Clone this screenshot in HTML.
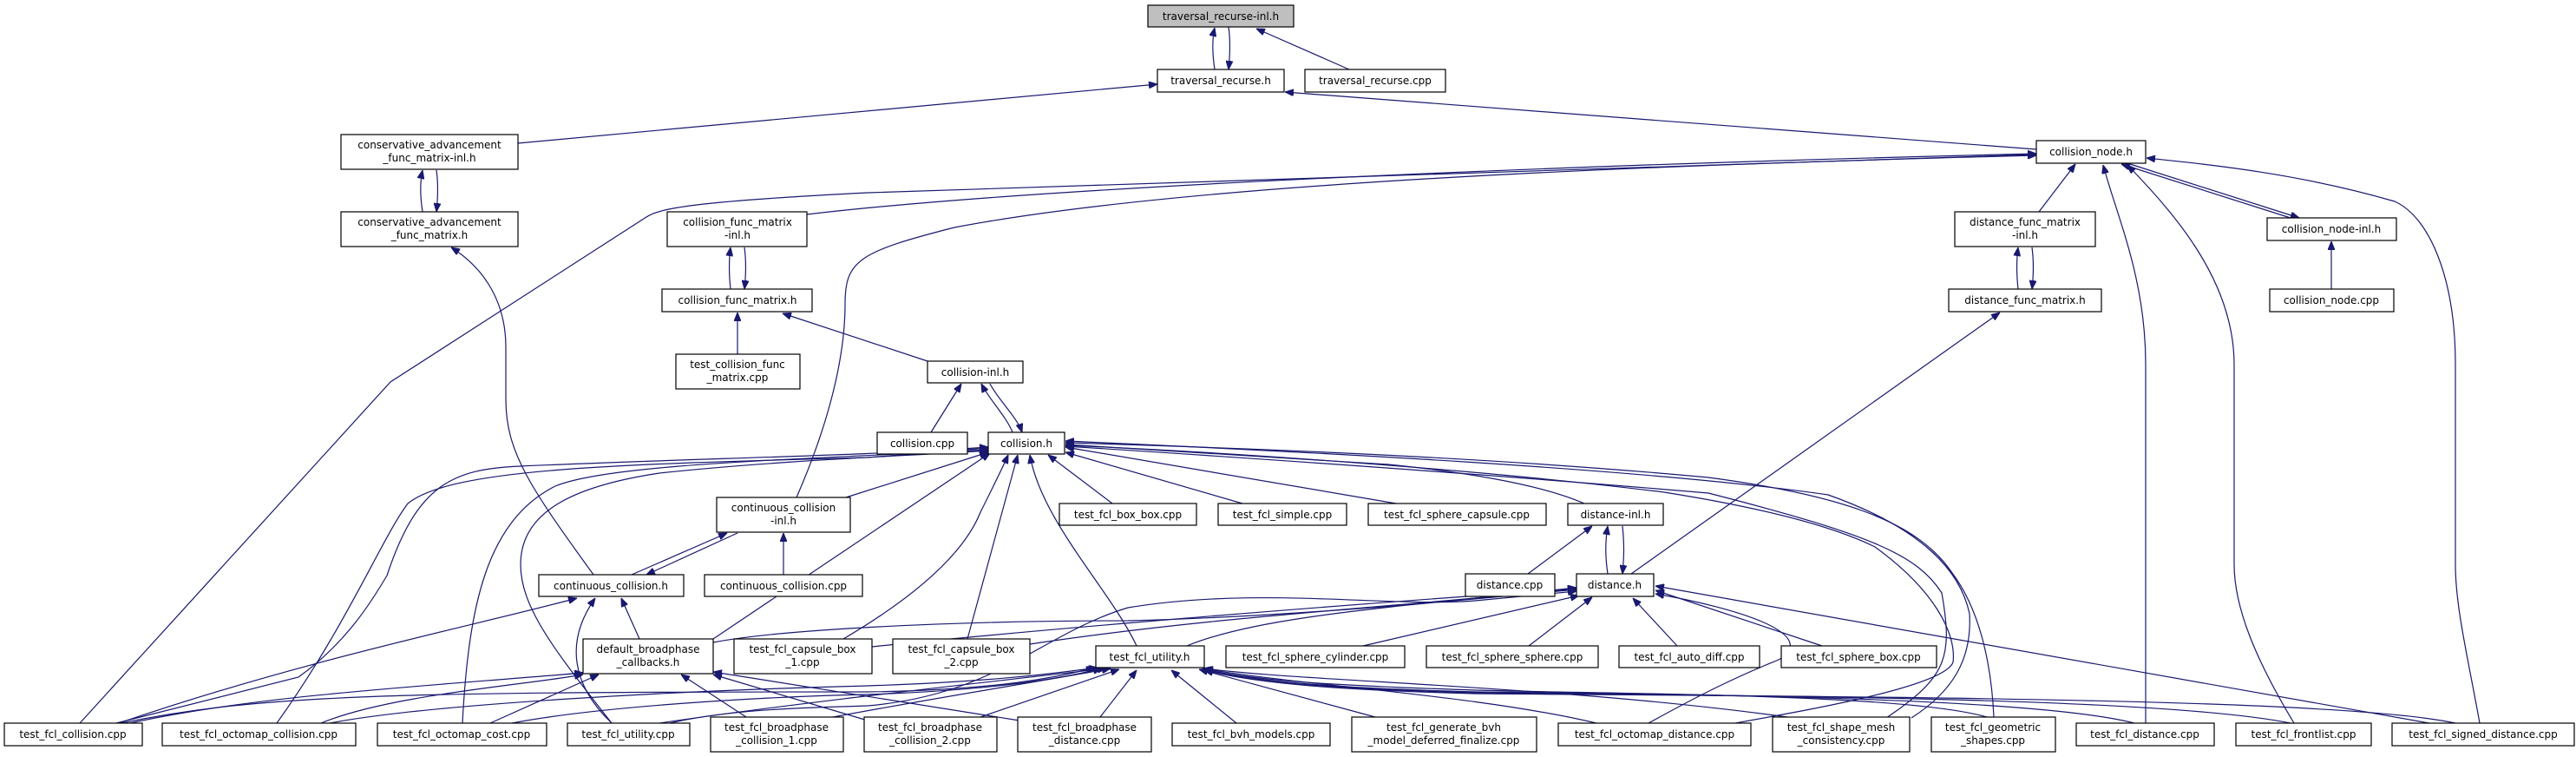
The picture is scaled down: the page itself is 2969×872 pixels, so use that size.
<!DOCTYPE html>
<html><head><meta charset="utf-8">
<style>
html,body{margin:0;padding:0;background:#fff;}
svg{display:block;}
text{font-family:"DejaVu Sans","Liberation Sans",sans-serif;font-size:12px;fill:#000;text-anchor:middle;}
.n{fill:#fff;stroke:#000;stroke-width:1.2;}
.e{fill:none;stroke:#191970;stroke-width:1.2;}
</style></head>
<body>
<svg width="2969" height="872" viewBox="0 0 2969 872" xmlns="http://www.w3.org/2000/svg">
<defs>
<marker id="a" viewBox="0 0 10 8" refX="10" refY="4" markerWidth="10" markerHeight="8" markerUnits="userSpaceOnUse" orient="auto">
<path d="M0,0 L10,4 L0,8 z" fill="#191970" stroke="#191970"/>
</marker>
</defs>
<g class="e" marker-end="url(#a)">
<!-- top -->
<path d="M1400,80 C1397,60 1397,45 1400,32"/>
<path d="M1416,31 C1418,45 1418,60 1416,80"/>
<path d="M1555,80 L1448,33"/>
<path d="M597,165 L1334,97"/>
<path d="M2347,172 L1481,106"/>
<path d="M487,244 C484,225 484,210 487,196"/>
<path d="M503,196 C505,210 505,225 503,244"/>
<path d="M684,662 C610,560 583,520 583,460 L583,400 C583,350 560,310 520,285"/>
<path d="M930,247 C1200,215 1800,190 2347,177"/>
<path d="M92,833 L450,440 L745,250 C760,240 800,232 1000,222 L2347,178"/>
<path d="M918,573 C950,500 974,420 974,350 C974,300 990,290 1100,262 C1400,205 2000,188 2347,179"/>
<path d="M842,333 C840,315 840,300 842,285"/>
<path d="M858,285 C860,300 860,315 858,333"/>
<path d="M850,408 L850,360"/>
<path d="M1069,416 L902,361"/>
<path d="M1073,498 L1108,442"/>
<path d="M1167,498 C1160,480 1140,460 1131,442"/>
<path d="M1141,442 C1150,460 1172,480 1178,498"/>
<path d="M2350,244 L2392,189"/>
<path d="M2326,333 C2324,315 2324,300 2326,285"/>
<path d="M2342,285 C2344,300 2344,315 2342,333"/>
<path d="M1880,661 L2305,360"/>
<path d="M2640,251 L2445,189"/>
<path d="M2455,189 L2650,251"/>
<path d="M2687,333 L2687,278"/>
<path d="M2473,833 L2473,420 C2473,320 2440,250 2424,190"/>
<path d="M2644,833 C2600,760 2575,700 2575,650 L2575,420 C2575,320 2500,240 2452,190"/>
<path d="M2858,833 C2845,760 2830,700 2830,650 L2830,420 C2830,320 2800,250 2760,232 C2650,200 2550,190 2474,182"/>
<!-- collision.h -->
<path d="M1282,580 L1208,524"/>
<path d="M1432,580 L1228,521"/>
<path d="M1609,580 L1228,515"/>
<path d="M1826,580 C1780,560 1700,545 1600,535 L1228,512"/>
<path d="M975,573 L1139,521"/>
<path d="M822,736 L1141,522"/>
<path d="M972,736 C1050,690 1110,640 1130,590 C1145,560 1155,540 1162,524"/>
<path d="M1115,736 L1173,524"/>
<path d="M1310,744 C1280,680 1200,600 1187,524"/>
<path d="M134,833 L344,780 C400,740 430,690 446,663 C480,560 520,540 600,537 C800,528 1000,525 1139,515"/>
<path d="M319,833 C400,720 440,620 470,580 C520,540 700,535 1000,527 L1139,516"/>
<path d="M533,833 C540,700 560,600 640,560 C700,535 900,530 1139,518"/>
<path d="M705,833 C640,750 600,700 600,650 C600,590 660,560 760,545 C900,530 1050,525 1140,519"/>
<path d="M2298,826 C2295,760 2280,700 2250,660 C2210,600 2120,570 1969,550 C1700,525 1400,515 1228,510"/>
<path d="M2203,827 C2250,797 2273,760 2270,707 C2260,660 2220,610 2107,570 C1900,540 1500,520 1228,508"/>
<path d="M2000,833 C2100,815 2240,790 2251,763 C2255,730 2230,680 2161,630 C2100,600 2000,580 1918,567 C1700,540 1400,520 1228,513"/>
<path d="M2174,827 C2244,780 2251,757 2238,683 C2210,640 2161,617 1969,568 C1700,545 1400,525 1228,514"/>
<!-- distance.h -->
<path d="M1761,661 L1835,606"/>
<path d="M1853,661 C1850,640 1850,625 1853,606"/>
<path d="M1870,606 C1872,625 1872,640 1870,661"/>
<path d="M1368,744 C1450,710 1600,700 1817,677"/>
<path d="M1571,744 L1820,686"/>
<path d="M1762,744 L1835,688"/>
<path d="M1933,744 L1882,689"/>
<path d="M2100,744 L1908,680"/>
<path d="M2800,833 L1908,675"/>
<path d="M822,740 C900,725 1100,715 1300,715 C1500,710 1700,690 1817,679"/>
<path d="M1005,745 C1200,725 1500,700 1817,678"/>
<path d="M1187,742 C1400,710 1600,700 1817,678"/>
<path d="M772,833 C850,815 950,815 1000,813 C1150,800 1200,730 1300,700 C1450,675 1600,700 1700,692 L1817,681"/>
<path d="M1900,833 C1960,800 2000,780 2050,760 C2100,730 2000,700 1908,684"/>
<!-- test_fcl_utility.h -->
<path d="M140,833 C300,800 450,797 1000,797 C1150,795 1220,780 1262,769"/>
<path d="M380,833 C500,810 800,795 1000,790 C1150,785 1220,775 1265,769"/>
<path d="M590,833 C700,812 900,802 1000,800 C1150,795 1230,780 1270,770"/>
<path d="M760,833 C900,812 1100,790 1275,770"/>
<path d="M960,826 C1100,800 1200,785 1280,770"/>
<path d="M1130,826 L1290,771"/>
<path d="M1268,826 L1310,772"/>
<path d="M1425,833 L1350,772"/>
<path d="M1585,826 L1382,771"/>
<path d="M1840,833 C1700,800 1500,790 1386,770"/>
<path d="M2060,826 C1800,790 1500,785 1388,770"/>
<path d="M2290,826 C2200,800 1900,800 1700,795 C1550,790 1450,785 1388,771"/>
<path d="M2460,833 C2350,805 2000,800 1700,797 C1550,793 1450,786 1388,771"/>
<path d="M2640,833 C2500,805 2100,802 1700,798 C1550,794 1450,787 1388,772"/>
<path d="M2830,833 C2700,805 2200,803 1700,799 C1550,795 1450,788 1388,772"/>
<!-- default_broadphase_callbacks.h & continuous_collision.h -->
<path d="M137,833 C350,760 550,720 665,689"/>
<path d="M150,833 C300,800 500,790 672,775"/>
<path d="M370,833 C450,800 600,790 672,777"/>
<path d="M565,833 L690,777"/>
<path d="M705,833 C660,790 650,740 686,689"/>
<path d="M860,826 L785,777"/>
<path d="M1000,830 L822,777"/>
<path d="M1175,830 L822,774"/>
<path d="M737,736 L716,689"/>
<path d="M728,662 L838,614"/>
<path d="M850,614 L745,662"/>
<path d="M903,662 L903,614"/>
</g>
<!-- nodes -->
<rect x="1323" y="6" width="168" height="25" fill="#bfbfbf" stroke="#000" stroke-width="1.2"/>
<text x="1407" y="23">traversal_recurse-inl.h</text>
<rect class="n" x="1334" y="80" width="146" height="26"/><text x="1407" y="97">traversal_recurse.h</text>
<rect class="n" x="1504" y="80" width="162" height="26"/><text x="1585" y="97">traversal_recurse.cpp</text>
<rect class="n" x="393" y="155" width="204" height="40"/><text x="495" y="171">conservative_advancement</text><text x="495" y="186">_func_matrix-inl.h</text>
<rect class="n" x="393" y="244" width="204" height="40"/><text x="495" y="260">conservative_advancement</text><text x="495" y="275">_func_matrix.h</text>
<rect class="n" x="2347" y="162" width="126" height="26"/><text x="2410" y="179">collision_node.h</text>
<rect class="n" x="769" y="244" width="161" height="40"/><text x="850" y="260">collision_func_matrix</text><text x="850" y="275">-inl.h</text>
<rect class="n" x="763" y="333" width="173" height="26"/><text x="850" y="350">collision_func_matrix.h</text>
<rect class="n" x="779" y="408" width="143" height="40"/><text x="850" y="424">test_collision_func</text><text x="850" y="439">_matrix.cpp</text>
<rect class="n" x="1069" y="416" width="110" height="25"/><text x="1124" y="433">collision-inl.h</text>
<rect class="n" x="1011" y="498" width="104" height="25"/><text x="1063" y="515">collision.cpp</text>
<rect class="n" x="1139" y="498" width="88" height="25"/><text x="1183" y="515">collision.h</text>
<rect class="n" x="826" y="573" width="154" height="40"/><text x="903" y="589">continuous_collision</text><text x="903" y="604">-inl.h</text>
<rect class="n" x="621" y="662" width="167" height="25"/><text x="704" y="679">continuous_collision.h</text>
<rect class="n" x="812" y="662" width="182" height="25"/><text x="903" y="679">continuous_collision.cpp</text>
<rect class="n" x="672" y="736" width="150" height="40"/><text x="747" y="752">default_broadphase</text><text x="747" y="767">_callbacks.h</text>
<rect class="n" x="846" y="736" width="159" height="40"/><text x="925" y="752">test_fcl_capsule_box</text><text x="925" y="767">_1.cpp</text>
<rect class="n" x="1029" y="736" width="158" height="40"/><text x="1108" y="752">test_fcl_capsule_box</text><text x="1108" y="767">_2.cpp</text>
<rect class="n" x="1221" y="580" width="158" height="25"/><text x="1300" y="597">test_fcl_box_box.cpp</text>
<rect class="n" x="1404" y="580" width="148" height="25"/><text x="1478" y="597">test_fcl_simple.cpp</text>
<rect class="n" x="1577" y="580" width="205" height="25"/><text x="1679" y="597">test_fcl_sphere_capsule.cpp</text>
<rect class="n" x="1807" y="580" width="110" height="25"/><text x="1862" y="597">distance-inl.h</text>
<rect class="n" x="1689" y="661" width="103" height="26"/><text x="1740" y="678">distance.cpp</text>
<rect class="n" x="1817" y="661" width="89" height="26"/><text x="1861" y="678">distance.h</text>
<rect class="n" x="1263" y="744" width="125" height="25"/><text x="1325" y="761">test_fcl_utility.h</text>
<rect class="n" x="1413" y="744" width="206" height="25"/><text x="1516" y="761">test_fcl_sphere_cylinder.cpp</text>
<rect class="n" x="1644" y="744" width="198" height="25"/><text x="1743" y="761">test_fcl_sphere_sphere.cpp</text>
<rect class="n" x="1866" y="744" width="162" height="25"/><text x="1947" y="761">test_fcl_auto_diff.cpp</text>
<rect class="n" x="2053" y="744" width="179" height="25"/><text x="2142" y="761">test_fcl_sphere_box.cpp</text>
<rect class="n" x="2253" y="244" width="162" height="40"/><text x="2334" y="260">distance_func_matrix</text><text x="2334" y="275">-inl.h</text>
<rect class="n" x="2246" y="333" width="176" height="26"/><text x="2334" y="350">distance_func_matrix.h</text>
<rect class="n" x="2613" y="251" width="149" height="26"/><text x="2687" y="268">collision_node-inl.h</text>
<rect class="n" x="2616" y="333" width="143" height="26"/><text x="2687" y="350">collision_node.cpp</text>
<rect class="n" x="5" y="833" width="159" height="26"/><text x="84" y="850">test_fcl_collision.cpp</text>
<rect class="n" x="187" y="833" width="223" height="26"/><text x="298" y="850">test_fcl_octomap_collision.cpp</text>
<rect class="n" x="435" y="833" width="195" height="26"/><text x="532" y="850">test_fcl_octomap_cost.cpp</text>
<rect class="n" x="654" y="833" width="141" height="26"/><text x="724" y="850">test_fcl_utility.cpp</text>
<rect class="n" x="819" y="826" width="153" height="40"/><text x="895" y="842">test_fcl_broadphase</text><text x="895" y="857">_collision_1.cpp</text>
<rect class="n" x="996" y="826" width="153" height="40"/><text x="1072" y="842">test_fcl_broadphase</text><text x="1072" y="857">_collision_2.cpp</text>
<rect class="n" x="1173" y="826" width="154" height="40"/><text x="1250" y="842">test_fcl_broadphase</text><text x="1250" y="857">_distance.cpp</text>
<rect class="n" x="1351" y="833" width="182" height="26"/><text x="1442" y="850">test_fcl_bvh_models.cpp</text>
<rect class="n" x="1558" y="826" width="213" height="40"/><text x="1664" y="842">test_fcl_generate_bvh</text><text x="1664" y="857">_model_deferred_finalize.cpp</text>
<rect class="n" x="1796" y="833" width="222" height="26"/><text x="1907" y="850">test_fcl_octomap_distance.cpp</text>
<rect class="n" x="2043" y="826" width="158" height="40"/><text x="2122" y="842">test_fcl_shape_mesh</text><text x="2122" y="857">_consistency.cpp</text>
<rect class="n" x="2226" y="826" width="143" height="40"/><text x="2297" y="842">test_fcl_geometric</text><text x="2297" y="857">_shapes.cpp</text>
<rect class="n" x="2393" y="833" width="159" height="26"/><text x="2472" y="850">test_fcl_distance.cpp</text>
<rect class="n" x="2577" y="833" width="156" height="26"/><text x="2655" y="850">test_fcl_frontlist.cpp</text>
<rect class="n" x="2757" y="833" width="210" height="26"/><text x="2862" y="850">test_fcl_signed_distance.cpp</text>
</svg>
</body></html>
